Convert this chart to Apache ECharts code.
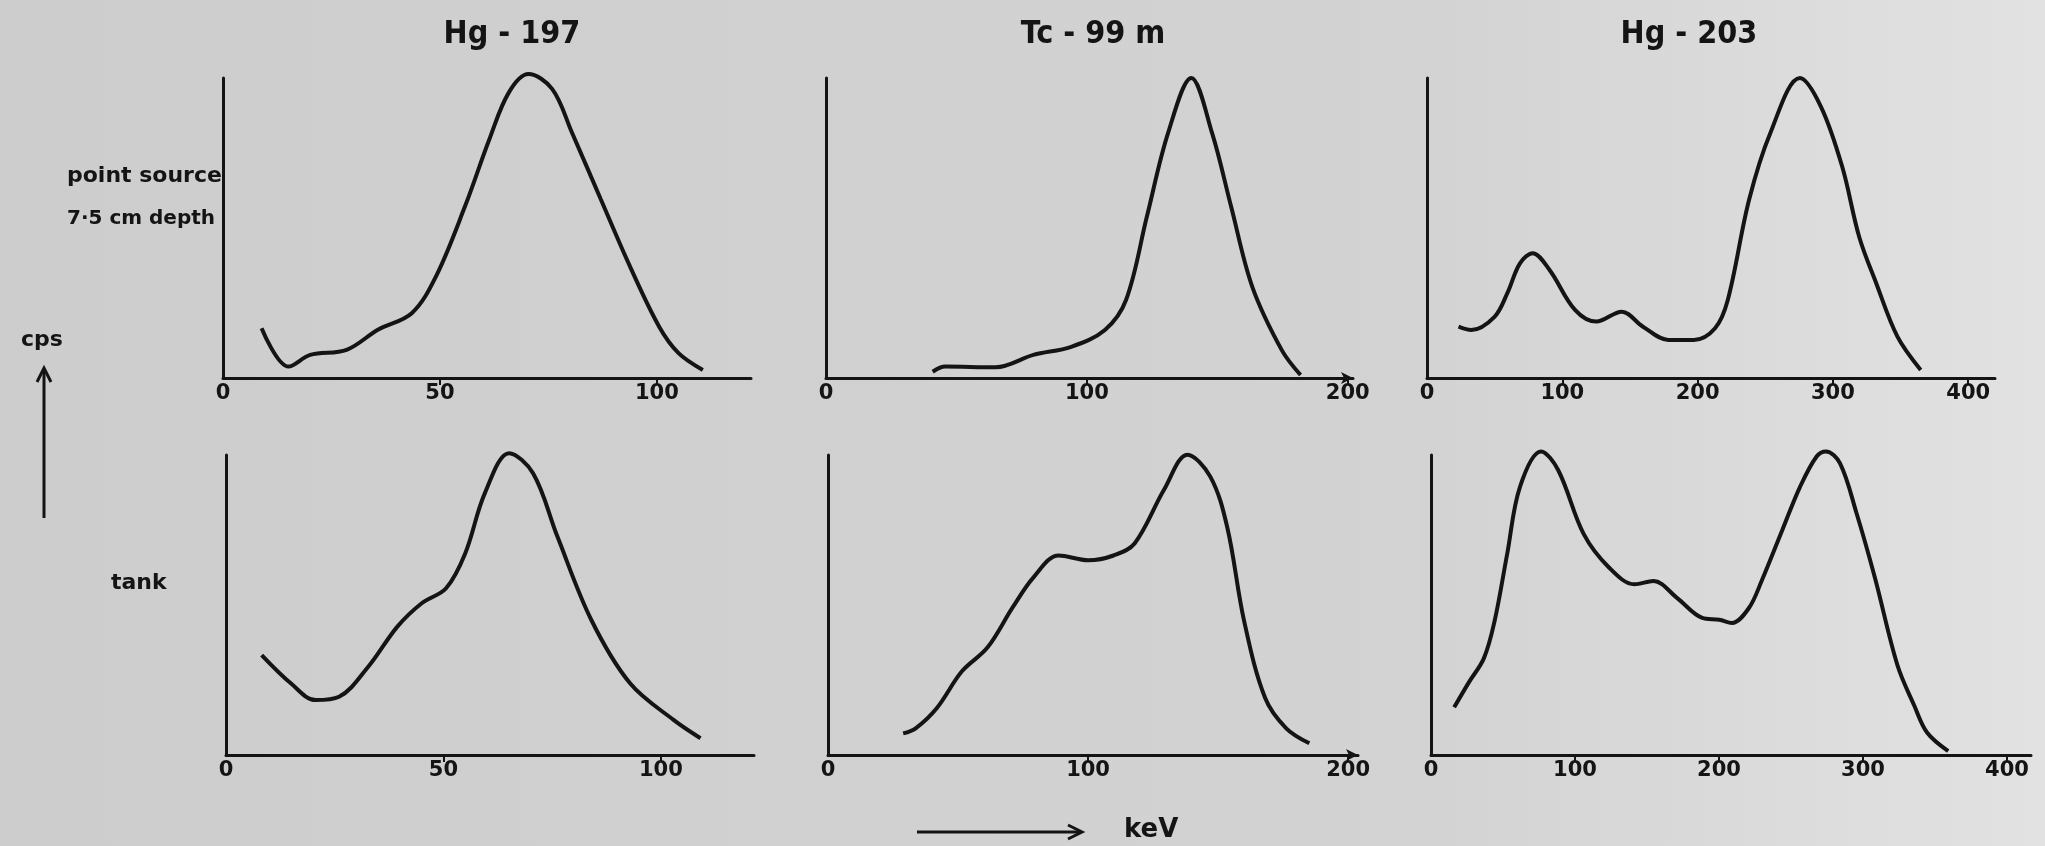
<!DOCTYPE html>
<html>
<head>
<meta charset="utf-8">
<script src="https://cdn.jsdelivr.net/npm/echarts@6/dist/echarts.min.js"></script>
<style>
  html, body { margin: 0; padding: 0; }
  #chart { width: 2045px; height: 846px; }
</style>
</head>
<body>
<div id="chart"></div>
<script>
// spectra: [keV, cps (0-100 = top of y axis)]
const hg197Point = [[8.9, 16.6], [15.1, 3.8], [20.1, 7.7], [28.5, 9.4], [35.7, 16.1], [43.5, 21.6], [49.1, 33.9], [55.8, 57.3], [61.4, 79.6], [65.9, 95.2], [70.4, 101.3], [75.9, 96.3], [80.4, 81.9], [87.1, 59.5], [93.8, 37.2], [100.5, 17.2], [105, 8.3], [110.6, 2.7]];
const tc99mPoint = [[40.9, 2.1], [45.7, 3.8], [65, 3.6], [79.5, 7.7], [94, 10.4], [106.9, 16], [115, 26], [123, 53.8], [131.1, 81.6], [140, 100], [148, 81.6], [155.3, 57.1], [163.4, 30.4], [174.7, 9.3], [181.9, 1]];
const hg203Point = [[23.3, 17.1], [32.7, 16], [49.9, 20.4], [59.3, 28.2], [68.7, 38.2], [78.1, 41.6], [90.6, 36], [109.4, 22.7], [125.1, 18.8], [143.9, 22.1], [159.6, 17.1], [178.4, 12.7], [197.2, 12.7], [212.9, 16.6], [222.3, 26], [238, 59.3], [253.7, 81.6], [275.6, 100], [291.2, 90.4], [306.9, 70.4], [319.4, 47.1], [332, 31.6], [347.7, 13.8], [364.9, 2.7]];
const hg197Tank = [[8.2, 33.3], [14.9, 23.9], [20.6, 18.3], [26, 19.4], [32.7, 29.4], [39.4, 42.8], [45, 50.6], [50.6, 55.6], [55, 67.2], [59.5, 87.2], [65.1, 100.6], [70.6, 93.9], [76.2, 72.8], [84, 45], [92.9, 23.9], [102.9, 11.7], [109.1, 5.6]];
const tc99mTank = [[28.9, 7.2], [33.7, 8.9], [41.8, 15.6], [51.5, 27.9], [61.3, 35.8], [71, 49.2], [79.1, 59.3], [88.7, 66.5], [100.1, 64.9], [109.8, 66.5], [117.9, 70.5], [129.2, 88.4], [138.2, 100.1], [147, 92.8], [153.5, 76], [160, 44.7], [168.1, 19], [176.2, 8.9], [185.1, 3.9]];
const hg203Tank = [[16.1, 15.9], [26.4, 24.3], [36.7, 32.2], [44.1, 44.5], [52.9, 67], [61.8, 89.4], [76.5, 101.2], [88.3, 95], [106, 73.7], [123.6, 62.5], [141.3, 56.9], [154.5, 58], [170.8, 52.4], [188.4, 45.7], [200.2, 45.1], [209, 44], [220.8, 49], [229.6, 58], [244, 75], [256.3, 89.4], [267.8, 99.5], [274.3, 101.2], [284, 97.3], [295.6, 80.5], [308.3, 59.1], [323.9, 30], [335.6, 16.5], [344.5, 7.5], [359.2, 1.3]];

const isotopes = ["Hg - 197", "Tc - 99 m", "Hg - 203"];
const rowLabels = ["point source", "7·5 cm depth", "tank"];
const hg197Ticks = [0, 50, 100];
const tc99mTicks = [0, 100, 200];
const hg203Ticks = [0, 100, 200, 300, 400];

const FONT = "DejaVu Sans";
const INK = "#141414";

const chart = echarts.init(document.getElementById("chart"));

// panel boxes in px, and x range
const panels = [
  { left: 223, top: 78, width: 528, xMax: 121.7, ticks: hg197Ticks, data: hg197Point },
  { left: 826, top: 78, width: 527, xMax: 202, ticks: tc99mTicks, data: tc99mPoint, arrow: true },
  { left: 1427, top: 78, width: 568, xMax: 419.8, ticks: hg203Ticks, data: hg203Point },
  { left: 226, top: 455, width: 528, xMax: 121.4, ticks: hg197Ticks, data: hg197Tank },
  { left: 828, top: 455, width: 530, xMax: 203.8, ticks: tc99mTicks, data: tc99mTank, arrow: true },
  { left: 1431, top: 455, width: 600, xMax: 416.7, ticks: hg203Ticks, data: hg203Tank },
];

const grid = panels.map(p => ({ left: p.left, top: p.top, width: p.width, height: 300 }));

const xAxis = panels.map((p, i) => ({
  type: "value",
  gridIndex: i,
  min: 0,
  max: p.xMax,
  axisLine: { lineStyle: { color: INK, width: 3 }, symbol: p.arrow ? ["none", "arrow"] : "none", symbolSize: [9, 12] },
  axisTick: { show: true, length: 7, inside: false, lineStyle: { color: INK, width: 2 }, customValues: p.ticks.slice(1) },
  axisLabel: { color: INK, fontFamily: FONT, fontWeight: "bold", fontSize: 21, margin: 5, customValues: p.ticks },
  splitLine: { show: false },
}));

const yAxis = panels.map((p, i) => ({
  type: "value",
  gridIndex: i,
  min: 0,
  max: 100,
  axisLine: { show: true, lineStyle: { color: INK, width: 3 } },
  axisTick: { show: false },
  axisLabel: { show: false },
  splitLine: { show: false },
}));

const series = panels.map((p, i) => ({
  type: "line",
  xAxisIndex: i,
  yAxisIndex: i,
  data: p.data,
  smooth: 0.35,
  showSymbol: false,
  clip: false,
  lineStyle: { color: INK, width: 4 },
}));

const titleX = [507, 1088, 1684];
const title = isotopes.map((t, i) => ({
  text: t,
  left: titleX[i],
  top: 14,
  textAlign: "center",
  textStyle: { fontFamily: "DejaVu Sans Condensed, DejaVu Sans", fontWeight: "bold", fontSize: 32, color: INK },
}));

const txt = (x, y, s, size, align) => ({
  type: "text",
  x: x,
  y: y,
  style: { text: s, fontFamily: FONT, fontWeight: "bold", fontSize: size, fill: INK, align: align || "left", verticalAlign: "middle" },
});

const option = {
  backgroundColor: new echarts.graphic.LinearGradient(0, 0, 1, 0, [
    { offset: 0, color: "#cdcdcd" },
    { offset: 0.7, color: "#d3d3d3" },
    { offset: 1, color: "#e2e2e2" },
  ]),
  animation: false,
  title: title,
  grid: grid,
  xAxis: xAxis,
  yAxis: yAxis,
  series: series,
  graphic: [
    txt(67, 176, rowLabels[0], 22),
    txt(67, 219, rowLabels[1], 20),
    txt(111, 583, rowLabels[2], 22),
    txt(42, 340, "cps", 22, "center"),
    // cps arrow
    { type: "line", shape: { x1: 44, y1: 518, x2: 44, y2: 370 }, style: { stroke: INK, lineWidth: 3 } },
    { type: "polyline", shape: { points: [[37, 382], [44, 368], [51, 382]] }, style: { stroke: INK, lineWidth: 3, fill: null } },
    // keV arrow
    { type: "line", shape: { x1: 917, y1: 832, x2: 1080, y2: 832 }, style: { stroke: INK, lineWidth: 3 } },
    { type: "polyline", shape: { points: [[1068, 825], [1082, 832], [1068, 839]] }, style: { stroke: INK, lineWidth: 3, fill: null } },
    txt(1124, 830, "keV", 26),
  ],
};

chart.setOption(option);
</script>
</body>
</html>
